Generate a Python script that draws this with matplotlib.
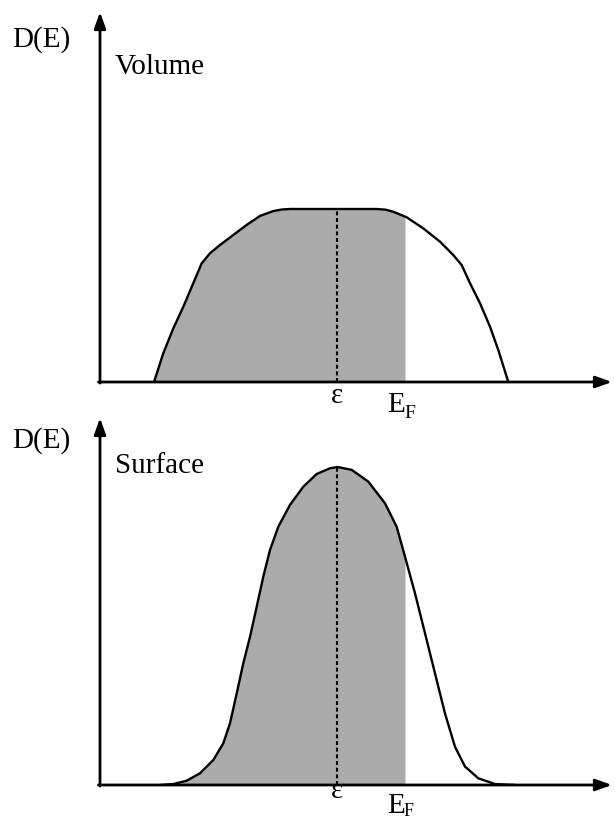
import matplotlib
matplotlib.use("Agg")
import matplotlib.pyplot as plt
import numpy as np

plt.rcParams['font.family'] = ['Liberation Serif', 'DejaVu Serif']

# ---- data (energy in arbitrary units 0..10, D(E) normalised to its maximum) ----
vol_E = [1.055, 1.236, 1.432, 1.627, 1.822, 1.986, 2.148, 2.344, 2.604, 2.865,
         3.125, 3.385, 3.55, 3.711, 5.404, 5.58, 5.729, 5.990, 6.314, 6.641,
         6.900, 7.064, 7.227, 7.422, 7.617, 7.779, 7.975]
vol_D = [0.0, 0.166, 0.310, 0.435, 0.571, 0.686, 0.744, 0.792, 0.850, 0.908,
         0.960, 0.988, 0.997, 1.0, 1.0, 0.996, 0.984, 0.952, 0.888, 0.811,
         0.734, 0.676, 0.571, 0.455, 0.320, 0.185, 0.0]

surf_E = [1.172, 1.432, 1.693, 1.953, 2.213, 2.408, 2.539, 2.670, 2.799, 2.930,
          3.061, 3.189, 3.320, 3.482, 3.711, 3.971, 4.232, 4.492, 4.639, 4.916,
          5.240, 5.566, 5.795, 5.957, 6.152, 6.348, 6.543, 6.738, 6.934, 7.129,
          7.389, 7.715, 8.105]
surf_D = [0.0, 0.003, 0.0135, 0.0368, 0.0786, 0.131, 0.194, 0.288, 0.383, 0.466,
          0.561, 0.655, 0.739, 0.812, 0.881, 0.938, 0.978, 0.996, 1.0, 0.991,
          0.954, 0.886, 0.812, 0.718, 0.603, 0.477, 0.351, 0.225, 0.120, 0.058,
          0.021, 0.003, 0.0]

eps_E = 4.634      # band centre
EF_E = 5.957       # Fermi energy
panel_titles = ["Volume", "Surface"]
ylabel = "D(E)"

W, H = 615, 819
fig = plt.figure(figsize=(W / 100, H / 100), dpi=100)

ax_top = fig.add_axes([100 / W, (H - 382) / H, 512 / W, 370 / H])
ax_bot = fig.add_axes([100 / W, (H - 785) / H, 512 / W, 367 / H])
ax_top.set_xlim(0, 10); ax_top.set_ylim(0, 370 / 173)
ax_bot.set_xlim(0, 10); ax_bot.set_ylim(0, 367 / 318)

gray = '#ababab'
for ax, E, D in [(ax_top, vol_E, vol_D), (ax_bot, surf_E, surf_D)]:
    ax.axis('off')
    E = np.array(E); D = np.array(D)
    Ef_D = np.interp(EF_E, E, D)
    mask = E < EF_E
    fe = np.concatenate([E[mask], [EF_E]])
    fd = np.concatenate([D[mask], [Ef_D]])
    ax.fill_between(fe, 0, fd, color=gray, lw=0, zorder=1)
    ax.plot(E, D, color='k', lw=1.7, zorder=3, solid_joinstyle='round',
            solid_capstyle='round')
    ax.plot([eps_E, eps_E], [0, np.interp(eps_E, E, D)], color='k', lw=1.5,
            dashes=(1.9, 1.3), zorder=2)
    ap = dict(arrowstyle='-|>,head_length=0.7,head_width=0.25', lw=2, color='k',
              shrinkA=0, shrinkB=0, mutation_scale=14)
    ax.annotate('', xy=(0, 1), xytext=(0, -0.003), xycoords='axes fraction',
                textcoords='axes fraction', arrowprops=ap)
    ax.annotate('', xy=(1, 0), xytext=(-0.003, 0), xycoords='axes fraction',
                textcoords='axes fraction', arrowprops=ap)

fs = 21
def ftext(x, y, s, **kw):
    fig.text(x / W, 1 - y / H, s, fontsize=kw.pop('fontsize', fs), va='baseline', **kw)

# labels top panel
ftext(12, 47, ylabel)
ftext(115, 74, panel_titles[0])
ftext(337, 403, "ε", ha='center')
ftext(387, 412, "E")
ftext(404, 418, "F", fontsize=14)

# labels bottom panel
ftext(12, 448, ylabel)
ftext(115, 473, panel_titles[1])
ftext(337, 798, "ε", ha='center')
ftext(387, 813, "E")
ftext(404, 816, "F", fontsize=13)

fig.savefig("out.png", dpi=100)
